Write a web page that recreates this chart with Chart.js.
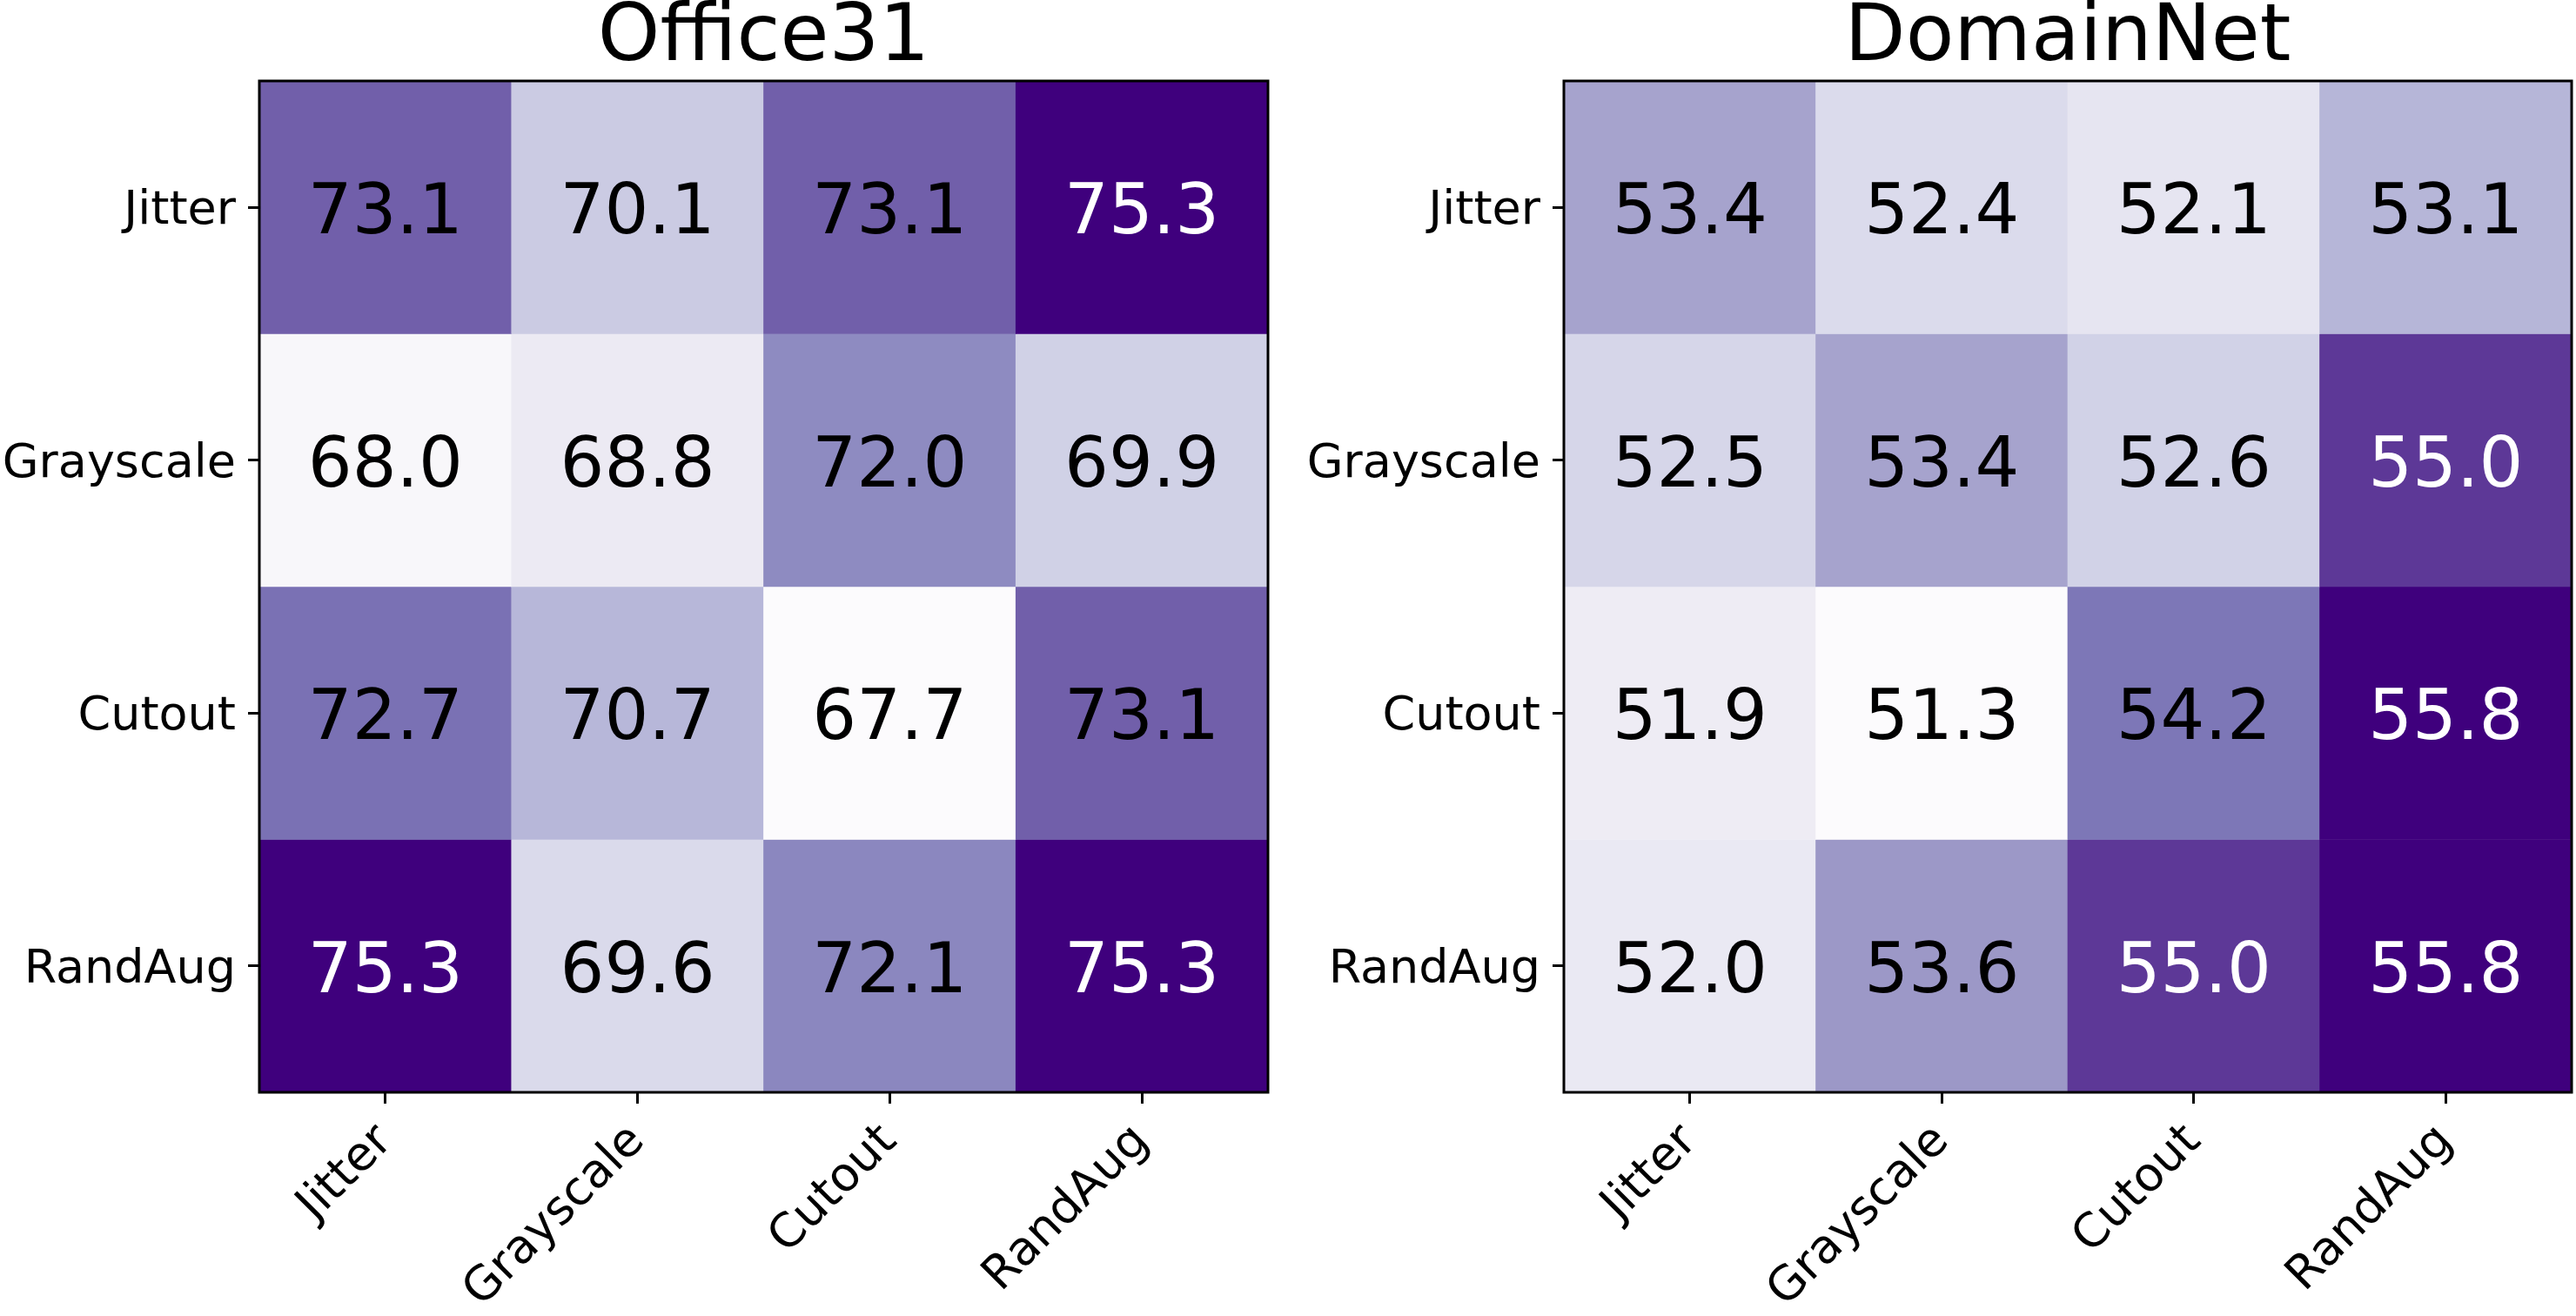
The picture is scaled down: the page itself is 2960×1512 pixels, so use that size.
<!DOCTYPE html>
<html><head><meta charset="utf-8">
<script src="https://cdn.jsdelivr.net/npm/chart.js@4"></script>
<style>
html,body{margin:0;padding:0;background:#fff;width:2960px;height:1512px;overflow:hidden}
.box{position:absolute;top:0;height:1512px;width:1480px}
#b1{left:0}#b2{left:1480px}
</style></head><body>
<div class="box" id="b1"><canvas id="c1"></canvas></div>
<div class="box" id="b2"><canvas id="c2"></canvas></div>
<script>
const rowLabels = ['Jitter', 'Grayscale', 'Cutout', 'RandAug'];
const colLabels = ['Jitter', 'Grayscale', 'Cutout', 'RandAug'];
const office31Values = [
  [73.1, 70.1, 73.1, 75.3],
  [68.0, 68.8, 72.0, 69.9],
  [72.7, 70.7, 67.7, 73.1],
  [75.3, 69.6, 72.1, 75.3]
];
const domainNetValues = [
  [53.4, 52.4, 52.1, 53.1],
  [52.5, 53.4, 52.6, 55.0],
  [51.9, 51.3, 54.2, 55.8],
  [52.0, 53.6, 55.0, 55.8]
];
const purplesStops = ['#fcfbfd','#efedf5','#dadaeb','#bcbddc','#9e9ac8','#807dba','#6a51a3','#54278f','#3f007d'];

const FONT = 'DejaVu Sans';
function hexToRgb(h){return [parseInt(h.slice(1,3),16),parseInt(h.slice(3,5),16),parseInt(h.slice(5,7),16)];}
function purples(t){
  t = Math.max(0, Math.min(1, t));
  let idx = Math.min(255, Math.floor(t*256));
  t = idx/255;
  const p = t*(purplesStops.length-1);
  const i = Math.min(purplesStops.length-2, Math.floor(p));
  const f = p - i;
  const a = hexToRgb(purplesStops[i]), b = hexToRgb(purplesStops[i+1]);
  const c = a.map((v,k)=>Math.round(v + (b[k]-v)*f));
  return `rgb(${c[0]},${c[1]},${c[2]})`;
}

function makeChart(id, title, values, yWidth, padRight){
  const flat = values.flat();
  const vmin = Math.min(...flat), vmax = Math.max(...flat);
  const norm = v => (v - vmin)/(vmax - vmin);
  const cellText = {
    id: 'cellText',
    afterDatasetsDraw(chart){
      const ctx = chart.ctx;
      const fs = 80;
      ctx.save();
      ctx.font = `${fs}px "${FONT}"`;
      ctx.textAlign = 'center';
      ctx.textBaseline = 'alphabetic';
      chart.data.datasets.forEach((ds, ri) => {
        chart.getDatasetMeta(ri).data.forEach((bar, ci) => {
          const v = values[ri][ci];
          const p = bar.getProps(['x','y','base'], true);
          const cy = (p.y + p.base)/2;
          ctx.fillStyle = norm(v) > 0.75 ? '#ffffff' : '#000000';
          ctx.fillText(v.toFixed(1), p.x, cy + 0.729*fs/2 + 1);
        });
      });
      ctx.restore();
    },
    afterDraw(chart){
      const a = chart.chartArea, ctx = chart.ctx;
      ctx.save();
      ctx.strokeStyle = '#000';
      ctx.lineWidth = 3;
      ctx.strokeRect(a.left, a.top, a.right - a.left, a.bottom - a.top);
      ctx.restore();
    }
  };
  return new Chart(document.getElementById(id), {
    type: 'bar',
    data: {
      labels: colLabels,
      datasets: rowLabels.map((r, ri) => ({
        label: r,
        data: colLabels.map(() => [ri, ri + 1]),
        backgroundColor: values[ri].map(v => purples(norm(v))),
        borderWidth: 0,
        grouped: false,
        barPercentage: 1,
        categoryPercentage: 1
      }))
    },
    options: {
      responsive: true,
      maintainAspectRatio: false,
      devicePixelRatio: 1,
      animation: false,
      layout: { padding: { right: padRight, top: 0, bottom: 0, left: 0 } },
      plugins: {
        legend: { display: false },
        tooltip: { enabled: false },
        title: {
          display: true, text: title, color: '#000', fullSize: false,
          font: { family: FONT, size: 91, weight: 'normal', lineHeight: 1 },
          padding: { top: 0, bottom: 2 }
        }
      },
      scales: {
        x: {
          type: 'category',
          grid: { display: true, drawOnChartArea: false, drawTicks: true, tickLength: 13, tickWidth: 3, tickColor: '#000', offset: false },
          border: { display: false },
          ticks: { color: '#000', font: { family: FONT, size: 54 }, minRotation: 45, maxRotation: 45, autoSkip: false, padding: 12 },
          afterFit(s){ s.height = 257; }
        },
        y: {
          type: 'linear', min: 0, max: rowLabels.length, reverse: true,
          afterBuildTicks(s){ s.ticks = rowLabels.map((_, i) => ({ value: i + 0.5 })); },
          grid: { display: true, drawOnChartArea: false, drawTicks: true, tickLength: 13, tickWidth: 3, tickColor: '#000' },
          border: { display: false },
          ticks: { color: '#000', font: { family: FONT, size: 54 }, padding: 14, labelOffset: 5, callback: v => rowLabels[Math.floor(v)] },
          afterFit(s){ s.width = yWidth; }
        }
      }
    },
    plugins: [cellText]
  });
}
makeChart('c1', 'Office31', office31Values, 298, 23);
makeChart('c2', 'DomainNet', domainNetValues, 317, 5);
</script>
</body></html>
